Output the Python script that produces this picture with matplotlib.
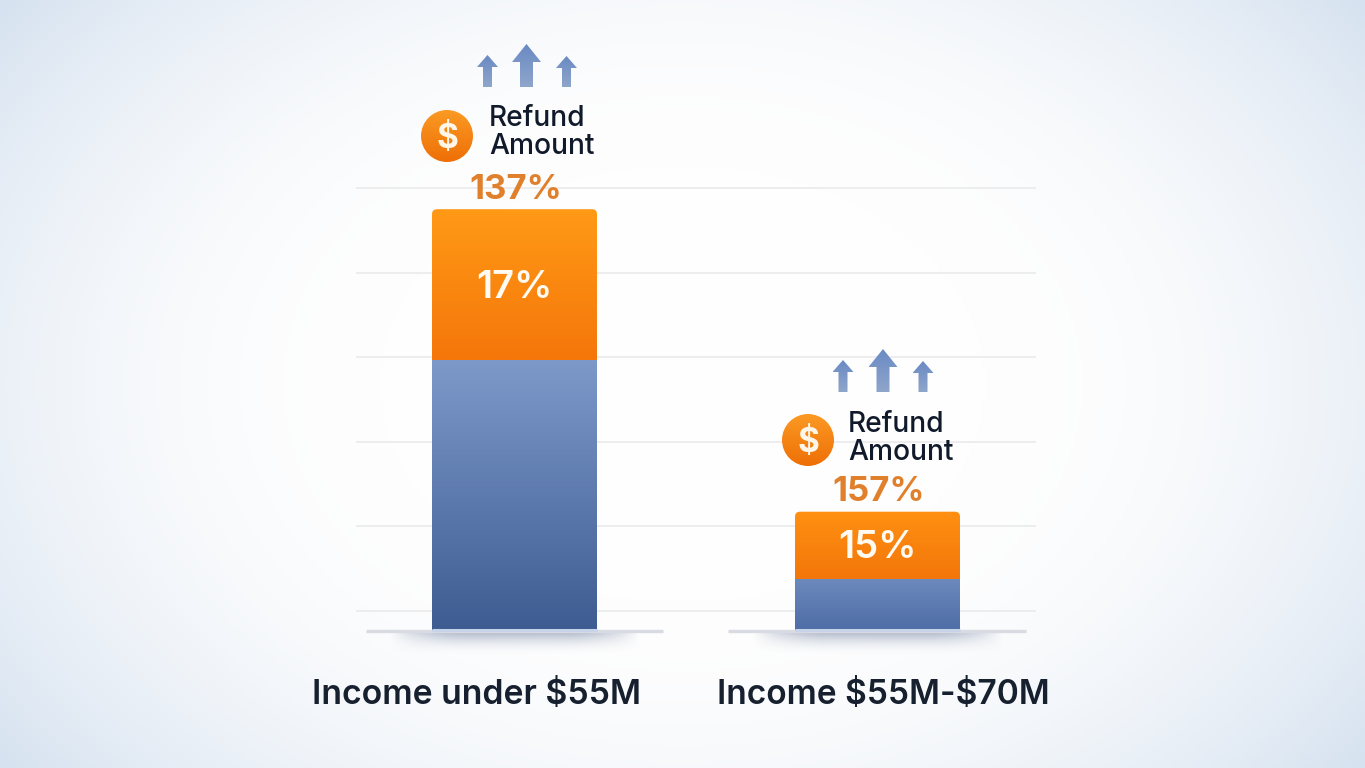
import numpy as np
import matplotlib as mpl
import matplotlib.pyplot as plt
from matplotlib.colors import LinearSegmentedColormap, to_rgb
from matplotlib.patches import Circle, FancyBboxPatch, Polygon

mpl.rc('font', family=['Inter', 'DejaVu Sans'])
mpl.rc('text', parse_math=False)

categories = ['Income under $55M', 'Income $55M-$70M']
blue_values = [63.9, 12.1]
orange_values = [35.7, 15.9]
segment_labels = ['17%', '15%']
total_labels = ['137%', '157%']
grid_values = [4.5, 24.5, 44.5, 64.5, 84.5, 104.5]
callout_lines = ['Refund', 'Amount']

W, H = 1365, 768
BASE_Y = 630
PX_PER_UNIT = 4.225

fig = plt.figure(figsize=(W / 100, H / 100), dpi=100)

# full figure axes in pixels, for background and decoration
bg = fig.add_axes([0, 0, 1, 1], zorder=0)
bg.set_xlim(0, W)
bg.set_ylim(H, 0)
bg.axis('off')

yy, xx = np.mgrid[0:1:192j, 0:1:342j]
xn = (xx - 0.5) / 0.5
yn = (yy - 0.5) / 0.5
d = np.sqrt((1.15 * xn ** 2 + 0.7 * yn ** 2) / 1.85)
t = np.clip((d - 0.35) / 0.65, 0, 1) ** 1.9
white = np.array(to_rgb('#fefefe'))
edge = np.array(to_rgb('#d6e2f0'))
bg.imshow(white + (edge - white) * t[..., None], extent=(0, W, H, 0), aspect='auto', zorder=0)


def vgrad(ax, box, top, bottom, clip, zorder=3):
    cm = LinearSegmentedColormap.from_list('g', [top, bottom])
    im = ax.imshow(np.linspace(0, 1, 128)[:, None], cmap=cm, vmin=0, vmax=1, extent=box,
                   aspect='auto', origin='upper', zorder=zorder, interpolation='bilinear')
    im.set_clip_path(clip)
    return im


def arrow(ax, cx, tip, head_y, foot, head_w, shaft_w):
    pts = [(cx, tip), (cx + head_w, head_y), (cx + shaft_w, head_y), (cx + shaft_w, foot),
           (cx - shaft_w, foot), (cx - shaft_w, head_y), (cx - head_w, head_y)]
    p = Polygon(pts, closed=True, fc='none', ec='none', zorder=4)
    ax.add_patch(p)
    vgrad(ax, (cx - head_w, cx + head_w, foot, tip), '#6a8ac4', '#8fa6cb', p, zorder=4)


# floor shelves and soft shadows
for x0, x1 in [(366, 663), (728, 1026)]:
    cx = (x0 + x1) / 2 + 0.5
    sx = np.linspace(-1, 1, 300)
    sy = np.linspace(0, 1, 40)
    a = np.clip(1.1 - np.abs(sx) ** 3 * 1.1, 0, 1)[None, :] * (1 - sy[:, None]) ** 2 * 0.5
    rgba = np.zeros((40, 300, 4))
    rgba[..., :3] = to_rgb('#566a90')
    rgba[..., 3] = a
    bg.imshow(rgba, extent=(cx - 125, cx + 125, 656, 631), aspect='auto', zorder=1)
    bg.plot([x0, x1], [630.5, 630.5], color='#d8dbe1', lw=2.4, solid_capstyle='butt', zorder=2)

# chart axes: 356..1036 px wide, baseline at y=630
ax = fig.add_axes([356 / W, (H - BASE_Y) / H, 680 / W, 450 / H], zorder=1)
ax.patch.set_alpha(0)
ax.axis('off')
xs = np.arange(len(categories))
xlim = (-0.4366, 1.4366)
ylim = (0, 450 / PX_PER_UNIT)
for g in grid_values:
    ax.plot(xlim, [g, g], color='#e8e9ec', lw=1.1, zorder=1)

width = 0.4545
blue_colors = [('#7d99ca', '#3f5c92'), ('#6c8abd', '#4f6da6')]
orange_colors = [('#ff9a16', '#f5760a'), ('#ff9012', '#f3760a')]
bars_b = ax.bar(xs, blue_values, width, color='#6480b5', zorder=2)
bars_o = ax.bar(xs, orange_values, width, bottom=blue_values, color='none', zorder=2)
unit_x = 363.0
for i in range(len(xs)):
    b, o = blue_values[i], orange_values[i]
    x0 = xs[i] - width / 2
    x1 = xs[i] + width / 2
    vgrad(ax, (x0, x1, 0, b), blue_colors[i][0], blue_colors[i][1], bars_b[i])
    # rounded top only: the rounded box runs down under the blue part
    rnd = FancyBboxPatch((x0, 0), width, b + o, boxstyle='round,pad=0,rounding_size=%f' % (5 / unit_x),
                         mutation_aspect=(unit_x / PX_PER_UNIT), fc='none', ec='none', zorder=3)
    ax.add_patch(rnd)
    vgrad(ax, (x0, x1, b, b + o), orange_colors[i][0], orange_colors[i][1], rnd)
    ax.plot([x0, x1], [0, 0], color='#c6d3e9', lw=2.2, solid_capstyle='butt', clip_on=False, zorder=6)
    ax.text(xs[i], b + o * 0.5 - 0.7, segment_labels[i], color='#fffaf2', fontsize=27.5, fontweight='semibold',
            ha='center', va='center', zorder=5)
    ax.text(xs[i] + 0.004, b + o + 4.6, total_labels[i], color='#e0802c', fontsize=25, fontweight='bold',
            ha='center', va='center', zorder=5, clip_on=False)
ax.set_xlim(xlim)
ax.set_ylim(ylim)

# decoration layer above the chart
top = fig.add_axes([0, 0, 1, 1], zorder=2)
top.set_xlim(0, W)
top.set_ylim(H, 0)
top.axis('off')
top.patch.set_alpha(0)

for (coin_x, coin_y, text_x, text_y, arrow_x, foot) in [(447, 136, 489, 118, (487.5, 526.5, 566.5), 87),
                                                         (808, 440, 848, 424, (843, 883, 923), 392)]:
    arrow(top, arrow_x[0], foot - 32, foot - 20, foot, 10.5, 4.5)
    arrow(top, arrow_x[1], foot - 43, foot - 25, foot, 14.5, 6.5)
    arrow(top, arrow_x[2], foot - 31, foot - 19, foot, 10.5, 4.5)

    ring = Circle((coin_x, coin_y), 26, fc='none', ec='none', zorder=4)
    top.add_patch(ring)
    vgrad(top, (coin_x - 26, coin_x + 26, coin_y + 26, coin_y - 26), '#fb9a24', '#ee6f06', ring, zorder=4)
    top.text(coin_x, coin_y + 3, '$', color='#fff6e8', fontsize=24, fontweight='bold', ha='center', va='center', zorder=5)
    for k, line in enumerate(callout_lines):
        top.text(text_x, text_y + 28 * k, line, color='#111a2b', fontsize=20.3, fontweight='medium',
                 ha='left', va='center', zorder=5)

top.text(477, 695, categories[0], color='#16202f', fontsize=24.3, fontweight='semibold', ha='center', va='center')
top.text(883, 695, categories[1], color='#16202f', fontsize=24.1, fontweight='semibold', ha='center', va='center')

fig.savefig('out.png', dpi=100)
